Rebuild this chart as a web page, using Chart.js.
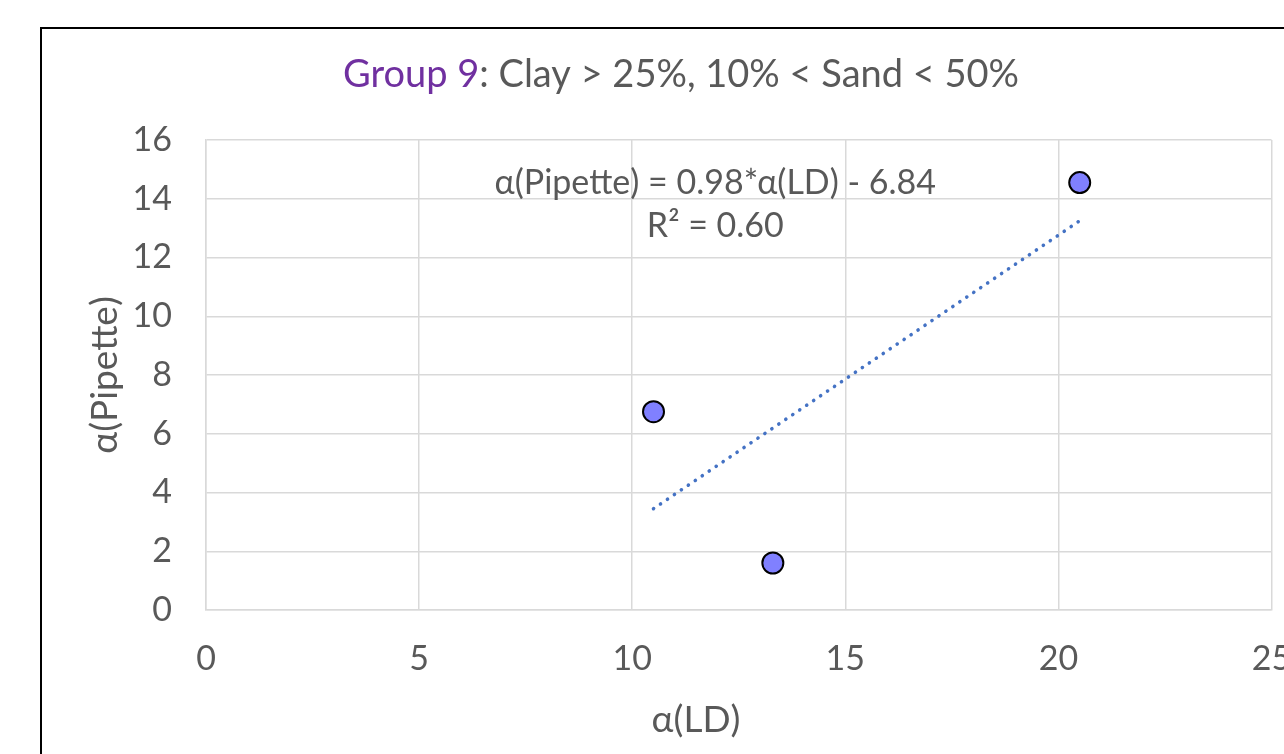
<!DOCTYPE html>
<html>
<head>
<meta charset="utf-8">
<script src="https://cdn.jsdelivr.net/npm/chart.js@4"></script>
<style>
  html, body { margin: 0; padding: 0; background: #fff; overflow: hidden; }
  #wrap { position: absolute; left: 0; top: 0; width: 1284px; height: 754px; }
</style>
</head>
<body>
<div id="wrap"><canvas id="c" width="1284" height="754"></canvas></div>
<script>
// ---- data ----
const ldValues = [10.5, 13.3, 20.5];          // α(LD)
const pipetteValues = [6.75, 1.6, 14.55];     // α(Pipette)
const trendX = [10.5, 20.5];                  // trendline ends (x)
const trendY = [3.45, 13.25];                 // trendline ends (y)
const xTicks = [0, 5, 10, 15, 20, 25];
const yTicks = [0, 2, 4, 6, 8, 10, 12, 14, 16];
const titleColored = 'Group 9';
const titleRest = ': Clay > 25%, 10% < Sand < 50%';
const xTitle = 'α(LD)';
const yTitle = 'α(Pipette)';
const eqText = 'α(Pipette) = 0.98*α(LD) - 6.84';
const r2Text = 'R² = 0.60';

const FONT = 'Lato, "Open Sans", sans-serif';
const GRAY = '#595959';

const extras = {
  id: 'extras',
  beforeDraw(chart) {
    const ctx = chart.ctx;
    ctx.save();
    ctx.fillStyle = '#ffffff';
    ctx.fillRect(0, 0, chart.width, chart.height);
    ctx.restore();
  },
  afterDraw(chart) {
    const ctx = chart.ctx;
    const xs = chart.scales.x, ys = chart.scales.y;
    ctx.save();
    // frame
    ctx.strokeStyle = '#000';
    ctx.lineWidth = 2;
    ctx.strokeRect(41, 28, 1500, 1000);
    // chart title
    ctx.font = '38px ' + FONT;
    ctx.textBaseline = 'middle';
    ctx.textAlign = 'left';
    const w1 = ctx.measureText(titleColored).width;
    const w2 = ctx.measureText(titleRest).width;
    const x0 = 681 - (w1 + w2) / 2;
    ctx.fillStyle = '#7030A0';
    ctx.fillText(titleColored, x0, 75);
    ctx.fillStyle = GRAY;
    ctx.fillText(titleRest, x0 + w1, 75);
    // axis titles
    ctx.font = '37px ' + FONT;
    ctx.textAlign = 'center';
    ctx.fillText(xTitle, 696, 720);
    ctx.save();
    ctx.translate(105, 375);
    ctx.rotate(-Math.PI / 2);
    ctx.fillText(yTitle, 0, 0);
    ctx.restore();
    // trendline label
    ctx.font = '34px ' + FONT;
    ctx.fillText(eqText, xs.getPixelForValue(11.95), ys.getPixelForValue(14.55));
    ctx.fillText(r2Text, xs.getPixelForValue(11.95), ys.getPixelForValue(13.08));
    ctx.restore();
  }
};

new Chart(document.getElementById('c'), {
  type: 'scatter',
  data: {
    datasets: [
      {
        label: 'points',
        data: ldValues.map((x, i) => ({ x: x, y: pipetteValues[i] })),
        backgroundColor: '#8080FF',
        borderColor: '#000000',
        borderWidth: 2,
        pointRadius: 10.5,
        pointHoverRadius: 10.5
      },
      {
        label: 'trend',
        data: trendX.map((x, i) => ({ x: x, y: trendY[i] })),
        showLine: true,
        borderColor: '#4472C4',
        borderWidth: 3.6,
        borderDash: [0.1, 8.3],
        borderCapStyle: 'round',
        pointRadius: 0,
        fill: false
      }
    ]
  },
  options: {
    responsive: false,
    animation: false,
    events: [],
    layout: { padding: { left: 0, right: 12, top: 140, bottom: 0 } },
    plugins: { legend: { display: false }, title: { display: false }, tooltip: { enabled: false } },
    scales: {
      x: {
        type: 'linear',
        min: 0, max: 25,
        afterBuildTicks(scale) { scale.ticks = xTicks.map(v => ({ value: v })); },
        afterFit(scale) { scale.height = 144; scale.paddingLeft = 0; scale.paddingRight = 0; },
        ticks: { color: GRAY, font: { family: FONT, size: 34 }, padding: 29, maxRotation: 0 },
        grid: { color: '#d9d9d9', lineWidth: 1.5, drawTicks: false },
        border: { color: '#d9d9d9', width: 1.5 }
      },
      y: {
        type: 'linear',
        min: 0, max: 16,
        afterBuildTicks(scale) { scale.ticks = yTicks.map(v => ({ value: v })); },
        afterFit(scale) { scale.width = 206; scale.paddingTop = 0; scale.paddingBottom = 0; },
        ticks: { color: GRAY, font: { family: FONT, size: 34 }, padding: 34 },
        grid: { color: '#d9d9d9', lineWidth: 1.5, drawTicks: false },
        border: { color: '#d9d9d9', width: 1.5 }
      }
    }
  },
  plugins: [extras]
});
</script>
</body>
</html>
